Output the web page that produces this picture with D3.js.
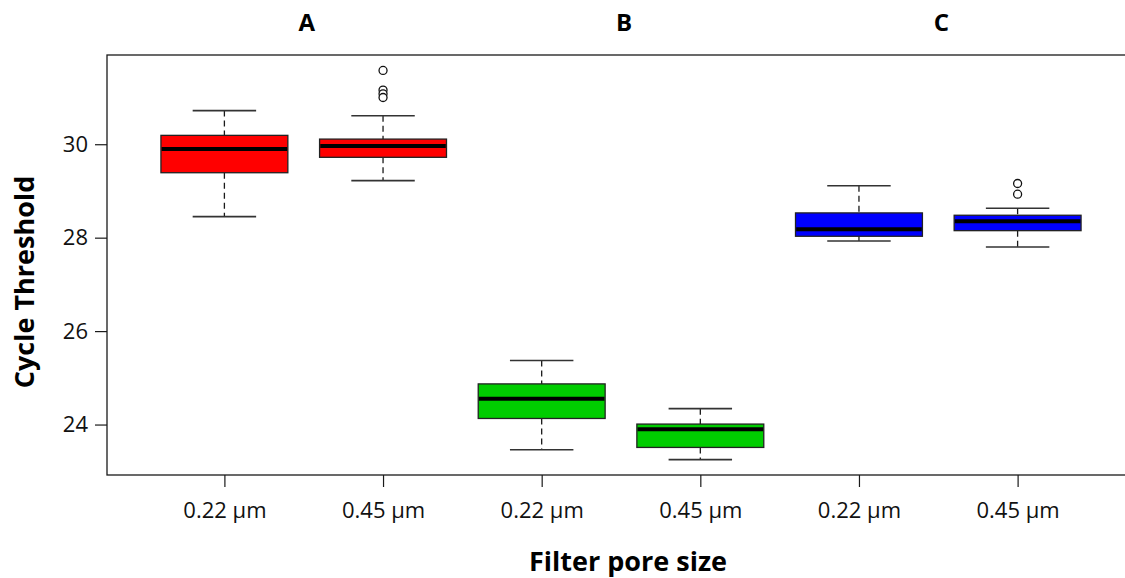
<!DOCTYPE html>
<html>
<head>
<meta charset="utf-8">
<script src="https://cdn.jsdelivr.net/npm/d3@7"></script>
<style>
  html, body { margin: 0; padding: 0; background: #fff; }
  svg { display: block; font-family: "Open Sans", "Noto Sans", sans-serif; }
</style>
</head>
<body>
<svg id="chart" width="1125" height="578"></svg>
<script>
// Box positions and their labels
const positions = [1, 2, 3, 4, 5, 6];
const poreLabels = ["0.22 µm", "0.45 µm", "0.22 µm", "0.45 µm", "0.22 µm", "0.45 µm"];
const groupNames = ["A", "B", "C"];
const boxColors = ["#ff0000", "#ff0000", "#00cd00", "#00cd00", "#0000ff", "#0000ff"];

// Five-number summaries per box
const whiskerLow  = [28.45, 29.22, 23.46, 23.25, 27.93, 27.80];
const quartileLow = [29.39, 29.72, 24.13, 23.51, 28.03, 28.15];
const medians     = [29.90, 29.96, 24.55, 23.90, 28.18, 28.35];
const quartileHigh= [30.19, 30.11, 24.87, 24.01, 28.53, 28.48];
const whiskerHigh = [30.72, 30.61, 25.37, 24.34, 29.11, 28.63];

// Outlying points: [box position, value]
const outliers = [[2, 31.58], [2, 31.16], [2, 31.08], [2, 31.00], [6, 29.16], [6, 28.93]];

const yTicks = [24, 26, 28, 30];

const svg = d3.select("#chart");
const plot = { left: 107, top: 55, bottom: 475, right: 1135 };

const x = d3.scaleLinear().domain([0.26, 6.74]).range([plot.left, plot.right]);
const y = d3.scaleLinear().domain([22.92, 31.91]).range([plot.bottom, plot.top]);
const unit = x(2) - x(1);
const boxW = 0.8 * unit;
const capW = 0.4 * unit;

const ink = "#1a1a1a";

// Plot frame
svg.append("rect")
  .attr("x", plot.left).attr("y", plot.top)
  .attr("width", plot.right - plot.left).attr("height", plot.bottom - plot.top)
  .attr("fill", "none").attr("stroke", ink).attr("stroke-width", 1.3);

// Y axis
const yAxis = svg.append("g")
  .attr("transform", `translate(${plot.left},0)`)
  .call(d3.axisLeft(y).tickValues(yTicks).tickSize(12).tickPadding(7).tickFormat(d3.format("d")));
yAxis.select(".domain").remove();
yAxis.selectAll(".tick line").attr("stroke", ink).attr("stroke-width", 1.2);
yAxis.selectAll(".tick text").attr("font-size", 22).attr("fill", "#111")
  .attr("font-family", "'Open Sans', 'Noto Sans', sans-serif");

// X axis
const xAxis = svg.append("g")
  .attr("transform", `translate(0,${plot.bottom})`)
  .call(d3.axisBottom(x).tickValues(positions).tickSize(12).tickPadding(15)
    .tickFormat((d, i) => poreLabels[i]));
xAxis.select(".domain").remove();
xAxis.selectAll(".tick line").attr("stroke", ink).attr("stroke-width", 1.2);
xAxis.selectAll(".tick text").attr("font-size", 22).attr("fill", "#111")
  .attr("font-family", "'Open Sans', 'Noto Sans', sans-serif");

// Boxes
const boxes = svg.append("g").selectAll("g.box")
  .data(positions)
  .join("g").attr("class", "box");

// dashed whiskers
boxes.append("line")
  .attr("x1", d => x(d)).attr("x2", d => x(d))
  .attr("y1", (d, i) => y(whiskerHigh[i])).attr("y2", (d, i) => y(quartileHigh[i]))
  .attr("stroke", ink).attr("stroke-width", 1.3).attr("stroke-dasharray", "6,4");
boxes.append("line")
  .attr("x1", d => x(d)).attr("x2", d => x(d))
  .attr("y1", (d, i) => y(quartileLow[i])).attr("y2", (d, i) => y(whiskerLow[i]))
  .attr("stroke", ink).attr("stroke-width", 1.3).attr("stroke-dasharray", "6,4");

// whisker caps
boxes.append("line")
  .attr("x1", d => x(d) - capW / 2).attr("x2", d => x(d) + capW / 2)
  .attr("y1", (d, i) => y(whiskerHigh[i])).attr("y2", (d, i) => y(whiskerHigh[i]))
  .attr("stroke", "#333").attr("stroke-width", 1.6);
boxes.append("line")
  .attr("x1", d => x(d) - capW / 2).attr("x2", d => x(d) + capW / 2)
  .attr("y1", (d, i) => y(whiskerLow[i])).attr("y2", (d, i) => y(whiskerLow[i]))
  .attr("stroke", "#333").attr("stroke-width", 1.6);

// interquartile box
boxes.append("rect")
  .attr("x", d => x(d) - boxW / 2)
  .attr("width", boxW)
  .attr("y", (d, i) => y(quartileHigh[i]))
  .attr("height", (d, i) => y(quartileLow[i]) - y(quartileHigh[i]))
  .attr("fill", (d, i) => boxColors[i])
  .attr("stroke", "#222").attr("stroke-width", 1.3);

// median
boxes.append("line")
  .attr("x1", d => x(d) - boxW / 2 + 0.7).attr("x2", d => x(d) + boxW / 2 - 0.7)
  .attr("y1", (d, i) => y(medians[i])).attr("y2", (d, i) => y(medians[i]))
  .attr("stroke", "#000").attr("stroke-width", 4);

// outliers
svg.append("g").selectAll("circle")
  .data(outliers)
  .join("circle")
  .attr("cx", d => x(d[0])).attr("cy", d => y(d[1]))
  .attr("r", 4)
  .attr("fill", "#fff").attr("stroke", "#111").attr("stroke-width", 1.3);

// Group letters above each pair
svg.append("g").selectAll("text")
  .data(groupNames)
  .join("text")
  .attr("x", (d, i) => (x(positions[2 * i]) + x(positions[2 * i + 1])) / 2 + 3)
  .attr("y", 31)
  .attr("text-anchor", "middle")
  .attr("font-size", 24).attr("font-weight", "bold").attr("fill", "#000")
  .text(d => d);

// Axis titles
svg.append("text")
  .attr("x", 628).attr("y", 571)
  .attr("text-anchor", "middle")
  .attr("font-size", 27).attr("font-weight", "bold").attr("fill", "#000")
  .text("Filter pore size");

svg.append("text")
  .attr("transform", "translate(34,282) rotate(-90)")
  .attr("text-anchor", "middle")
  .attr("font-size", 27).attr("font-weight", "bold").attr("fill", "#000")
  .text("Cycle Threshold");
</script>
</body>
</html>
